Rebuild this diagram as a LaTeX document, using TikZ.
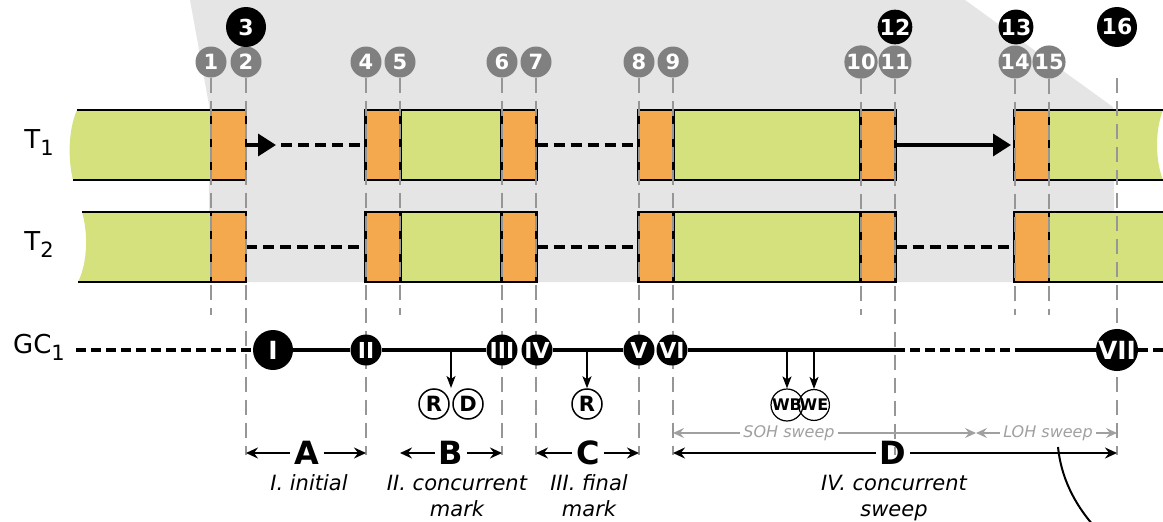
\documentclass[tikz,border=0pt]{standalone}
\usepackage{fontspec}
\setmainfont{DejaVu Sans}
\usetikzlibrary{arrows.meta}
\definecolor{barGreen}{RGB}{212,225,124}
\definecolor{barOrange}{RGB}{245,169,79}
\definecolor{bgGray}{RGB}{229,229,229}
\definecolor{numGray}{RGB}{128,128,128}
\definecolor{guideGray}{RGB}{150,150,150}
\definecolor{sweepGray}{RGB}{160,160,160}
\tikzset{
 oblock/.style={draw=black, line width=2.2pt, fill=barOrange, minimum width=35pt, minimum height=70pt, inner sep=0pt, outer sep=0pt},
 gblock/.style={draw=black, line width=2.2pt, fill=barGreen, minimum height=70pt, inner sep=0pt, outer sep=0pt},
 tdash/.style={line width=4.5pt, dash pattern=on 11pt off 6pt},
 tarrow/.style={line width=3.5pt, -{Triangle[length=18pt,width=22pt]}},
 guide/.style={guideGray, line width=2pt, dash pattern=on 15pt off 8pt},
 numc/.style={circle, fill=numGray, text=white, font=\fontsize{21}{21}\selectfont\bfseries, minimum size=31pt, inner sep=0pt},
 bigc/.style={circle, fill=black, text=white, font=\fontsize{22}{22}\selectfont\bfseries, minimum size=40pt, inner sep=0pt},
 smallbc/.style={bigc, minimum size=31pt},
 gcnode/.style={circle, fill=black, text=white, font=\fontsize{22}{22}\selectfont\bfseries, minimum size=31pt, inner sep=0pt},
 gcbig/.style={gcnode, minimum size=40pt, font=\fontsize{25}{25}\selectfont\bfseries},
 gcline/.style={line width=4.5pt},
 gcdash/.style={line width=4.5pt, dash pattern=on 10pt off 5pt},
 evt/.style={circle, draw=black, line width=1.5pt, font=\fontsize{21}{21}\selectfont\bfseries, minimum size=30pt, inner sep=0pt},
 evts/.style={evt, minimum size=24pt, font=\fontsize{16}{16}\selectfont\bfseries, line width=1.2pt},
 evtarrow/.style={line width=1.6pt, -{Stealth[length=12pt,width=9pt,inset=3pt]}},
 dim/.style={line width=2pt, -{Stealth[length=12pt,width=11pt,inset=4pt]}},
 dimlbl/.style={font=\fontsize{32}{32}\selectfont\bfseries, inner sep=4pt},
 sweep/.style={sweepGray, line width=2pt, -{Stealth[length=11pt,width=10pt,inset=4pt]}},
 sweeplbl/.style={text=sweepGray, font=\fontsize{16}{16}\selectfont\itshape, inner sep=3pt},
 phase/.style={font=\fontsize{21}{26}\selectfont\itshape, align=center, anchor=north, inner sep=0pt},
 tlabel/.style={font=\fontsize{26}{26}\selectfont, inner sep=0pt},
}
\begin{document}
\begin{tikzpicture}[x=1pt,y=-1pt]
\useasboundingbox (0,0) rectangle (1163,522);
\clip (0,0) rectangle (1163,522);
% background shade
\fill[bgGray] (190,0) -- (965,0) -- (1113,107) -- (1115,282) -- (209,282) -- (209,105) -- cycle;

% ---- T1 bar
\fill[barGreen] (77,110) .. controls (68,130) and (68,160) .. (73,180) -- (212,180) -- (212,110) -- cycle;
\draw[line width=2.2pt] (77,110) -- (212,110);
\draw[line width=2.2pt] (73,180) -- (212,180);
\fill[barGreen] (1048,110) -- (1163,110) .. controls (1155,130) and (1155,160) .. (1163,180) -- (1048,180) -- cycle;
\draw[line width=2.2pt] (1048,110) -- (1163,110);
\draw[line width=2.2pt] (1048,180) -- (1163,180);
\node[gblock, minimum width=102pt] (ga1) at (451,145) {};
\node[gblock, minimum width=188pt] (ga2) at (767,145) {};
\node[oblock] (a1) at (228.5,145) {};
\node[oblock] (a2) at (383,145) {};
\node[oblock] (a3) at (519,145) {};
\node[oblock] (a4) at (656,145) {};
\node[oblock] (a5) at (878,145) {};
\node[oblock] (a6) at (1031.5,145) {};

% ---- T2 bar
\fill[barGreen] (82,212) .. controls (88,232) and (88,262) .. (78,282) -- (212,282) -- (212,212) -- cycle;
\draw[line width=2.2pt] (82,212) -- (212,212);
\draw[line width=2.2pt] (78,282) -- (212,282);
\fill[barGreen] (1048,212) rectangle (1163,282);
\draw[line width=2.2pt] (1048,212) -- (1163,212);
\draw[line width=2.2pt] (1048,282) -- (1163,282);
\node[gblock, minimum width=102pt] (gb1) at (451,247) {};
\node[gblock, minimum width=188pt] (gb2) at (767,247) {};
\node[oblock] (b1) at (228.5,247) {};
\node[oblock] (b2) at (383,247) {};
\node[oblock] (b3) at (519,247) {};
\node[oblock] (b4) at (656,247) {};
\node[oblock] (b5) at (878,247) {};
\node[oblock] (b6) at (1031.5,247) {};

% thread waits
\coordinate (t1tip) at (276,145);
\coordinate (t1ds) at (281,145);
\coordinate (t1tip2) at (1011,145);
\draw[tarrow] (a1.east) -- (t1tip);
\draw[tdash] (t1ds) -- (a2.west);
\draw[tdash] (a3.east) -- (a4.west);
\draw[tarrow] (a5.east) -- (t1tip2);
\draw[tdash] (b1.east) -- (b2.west);
\draw[tdash] (b3.east) -- (b4.west);
\draw[tdash] (b5.east) -- (b6.west);

% labels
\node[tlabel] (lT1) at (39,143) {T\raisebox{-7pt}{\fontsize{21}{21}\selectfont 1}};
\node[tlabel] (lT2) at (39,245) {T\raisebox{-7pt}{\fontsize{21}{21}\selectfont 2}};
\node[tlabel] (lGC) at (39,347) {GC\raisebox{-7pt}{\fontsize{21}{21}\selectfont 1}};

% numbered markers
\node[numc] (n1) at (211,62) {1};
\node[numc] (n2) at (246,62) {2};
\node[numc] (n4) at (366,62) {4};
\node[numc] (n5) at (400,62) {5};
\node[numc] (n6) at (502,62) {6};
\node[numc] (n7) at (536,62) {7};
\node[numc] (n8) at (639,62) {8};
\node[numc] (n9) at (673,62) {9};
\node[numc] (n10) at (861,62) {10};
\node[numc] (n11) at (895,62) {11};
\node[numc] (n14) at (1015,62) {14};
\node[numc] (n15) at (1049,62) {15};
\node[bigc] (k3) at (246,27) {3};
\node[smallbc] (k12) at (895,27) {12};
\node[smallbc] (k13) at (1016,27) {13};
\node[bigc] (k16) at (1117,27) {16};

% guide lines
\coordinate (g1) at (211,315);
\coordinate (g2) at (246,455);
\coordinate (g4) at (366,455);
\coordinate (g5) at (400,315);
\coordinate (g6) at (502,455);
\coordinate (g7) at (536,455);
\coordinate (g8) at (639,455);
\coordinate (g9) at (673,455);
\coordinate (g10) at (861,315);
\coordinate (g11) at (895,455);
\coordinate (g14) at (1015,315);
\coordinate (g15) at (1049,315);
\coordinate (g16t) at (1117,78);
\coordinate (g16) at (1117,455);
\foreach \i in {1,2,4,5,6,7,8,9,10,11,14,15}{\draw[guide] (n\i) -- (g\i);}
\draw[guide] (g16t) -- (g16);

% GC line
\node[gcbig] (I) at (273,350) {I};
\node[gcnode] (II) at (366,350) {II};
\node[gcnode] (III) at (502,350) {III};
\node[gcnode] (IV) at (537,350) {IV};
\node[gcnode] (V) at (639,350) {V};
\node[gcnode] (VI) at (672,350) {VI};
\node[gcbig] (VII) at (1117,350) {VII};
\coordinate (gcL) at (76,350);
\coordinate (gcA) at (895,350);
\coordinate (gcB) at (1015,350);
\coordinate (gcR) at (1163,350);
\draw[gcdash] (gcL) -- (I);
\draw[gcline] (I) -- (II);
\draw[gcline] (II) -- (III);
\draw[gcline] (IV) -- (V);
\draw[gcline] (VI) -- (gcA);
\draw[gcdash] (gcA) -- (gcB);
\draw[gcline] (gcB) -- (VII);
\draw[gcdash] (VII) -- (gcR);

% events
\node[evt] (R1) at (434,404) {R};
\node[evt] (D1) at (468,404) {D};
\node[evt] (R2) at (587,404) {R};
\node[evts] (WB) at (787,405) {WB};
\node[evts] (WE) at (814,405) {WE};
\coordinate (rdTop) at (451,352);
\coordinate (rdTip) at (451,388);
\coordinate (r2Top) at (587,352);
\coordinate (wbTop) at (787,352);
\coordinate (weTop) at (814,352);
\draw[evtarrow] (rdTop) -- (rdTip);
\draw[evtarrow] (r2Top) -- (R2);
\draw[evtarrow] (wbTop) -- (WB);
\draw[evtarrow] (weTop) -- (WE);

% phase dimensions
\node[dimlbl] (A) at (307,453) {A};
\node[dimlbl] (B) at (451,453) {B};
\node[dimlbl] (C) at (588,453) {C};
\node[dimlbl] (D) at (893,453) {D};
\coordinate (Al) at (246,453); \coordinate (Ar) at (366,453);
\coordinate (Bl) at (400,453); \coordinate (Br) at (502,453);
\coordinate (Cl) at (536,453); \coordinate (Cr) at (639,453);
\coordinate (Dl) at (673,453); \coordinate (Dr) at (1117,453);
\draw[dim] (A) -- (Al); \draw[dim] (A) -- (Ar);
\draw[dim] (B) -- (Bl); \draw[dim] (B) -- (Br);
\draw[dim] (C) -- (Cl); \draw[dim] (C) -- (Cr);
\draw[dim] (D) -- (Dl); \draw[dim] (D) -- (Dr);

% sweep sub-phases
\node[sweeplbl] (SOH) at (789,433) {SOH sweep};
\node[sweeplbl] (LOH) at (1048,433) {LOH sweep};
\coordinate (Sl) at (673,433); \coordinate (Sm) at (976,433); \coordinate (Sr) at (1117,433);
\draw[sweep] (SOH) -- (Sl); \draw[sweep] (SOH) -- (Sm);
\draw[sweep] (LOH) -- (Sm); \draw[sweep] (LOH) -- (Sr);

% phase names
\node[phase] (pA) at (309,474.5) {I. initial};
\node[phase] (pB) at (457,474.5) {II. concurrent\\mark};
\node[phase] (pC) at (589,474.5) {III. final\\mark};
\node[phase] (pD) at (894,474.5) {IV. concurrent\\sweep};

% callout curve
\coordinate (cv1) at (1058,447);
\coordinate (cv2) at (1093,525);
\draw[line width=2pt] (cv1) .. controls (1061,477) and (1074,503) .. (cv2);
\end{tikzpicture}
\end{document}
